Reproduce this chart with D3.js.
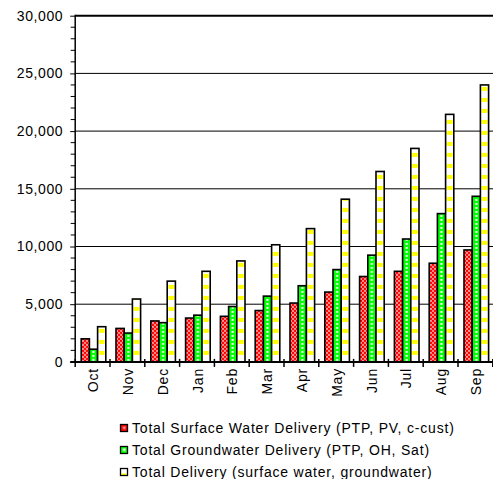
<!DOCTYPE html>
<html><head><meta charset="utf-8">
<script src="https://cdn.jsdelivr.net/npm/d3@7"></script>
<style>
html,body{margin:0;padding:0;background:#fff;}
svg{display:block;font-family:"Liberation Sans",Arial,sans-serif;}
</style></head>
<body>
<svg id="c" width="493" height="479"></svg>
<script>
const months = ["Oct","Nov","Dec","Jan","Feb","Mar","Apr","May","Jun","Jul","Aug","Sep"];
const surfaceWater = [2000,2900,3550,3800,3950,4450,5100,6050,7400,7850,8550,9700];
const groundwater = [1100,2500,3400,4050,4800,5700,6600,8000,9250,10650,12850,14350];
const totalDelivery = [3050,5450,7000,7850,8750,10150,11550,14100,16500,18500,21450,24000];
const seriesNames = ["Total Surface Water Delivery (PTP, PV, c-cust)","Total Groundwater Delivery (PTP, OH, Sat)","Total Delivery (surface water, groundwater)"];
const yTicks = [0,5000,10000,15000,20000,25000,30000];

(function(){
const svg = d3.select("#c");
const pLeft = 75.2, pRight = 492.8, pTop = 15.7, pBottom = 361.9;
const x = d3.scaleBand().domain(months).range([pLeft, pRight]).paddingInner(0).paddingOuter(0);
const y = d3.scaleLinear().domain([0,30000]).range([pBottom, pTop]);
const bw = 8.2, off = 6;
const defs = svg.append("defs");

const pr = defs.append("pattern").attr("id","pred").attr("patternUnits","userSpaceOnUse")
  .attr("width",4).attr("height",4).attr("y", pBottom);
pr.append("rect").attr("width",4).attr("height",4).attr("fill","#ff0000");
pr.append("rect").attr("width",2).attr("height",2).attr("fill","#ff8c8c");
pr.append("rect").attr("x",2).attr("y",2).attr("width",2).attr("height",2).attr("fill","#ff8c8c");

svg.append("g").selectAll("line").data(yTicks.filter(d=>d>0)).join("line")
  .attr("x1",pLeft).attr("x2",pRight+1).attr("y1",d=>y(d)).attr("y2",d=>y(d))
  .attr("stroke","#000").attr("stroke-width",d=>d===30000?2:1);

const series = [surfaceWater, groundwater, totalDelivery];
series.forEach((vals, si) => {
  vals.forEach((v, i) => {
    const bx = x(months[i]) + off + si*bw;
    let fill;
    if (si === 0) fill = "url(#pred)";
    else if (si === 1) {
      const id = "pg"+i;
      const p = defs.append("pattern").attr("id",id).attr("patternUnits","userSpaceOnUse")
        .attr("x",bx).attr("y",pBottom).attr("width",bw).attr("height",4);
      p.append("rect").attr("width",bw).attr("height",4).attr("fill","#00ff00");
      p.append("rect").attr("x",bw/2-1).attr("y",1).attr("width",2).attr("height",2).attr("fill","#fff");
      fill = `url(#${id})`;
    } else {
      const id = "py"+i;
      const p = defs.append("pattern").attr("id",id).attr("patternUnits","userSpaceOnUse")
        .attr("x",bx).attr("y",pBottom).attr("width",bw).attr("height",11);
      p.append("rect").attr("width",bw).attr("height",11).attr("fill","#fff");
      p.append("rect").attr("x",1.2).attr("y",0).attr("width",bw-2.4).attr("height",4).attr("fill","#ffff00");
      fill = `url(#${id})`;
    }
    svg.append("rect").attr("x",bx).attr("y",y(v)).attr("width",bw).attr("height",y(0)-y(v))
      .attr("fill",fill).attr("stroke","#000").attr("stroke-width",1.6);
  });
});

const yAxis = d3.axisLeft(y).tickValues(yTicks).tickSize(5).tickPadding(7).tickFormat(d3.format(","));
const gy = svg.append("g").attr("transform",`translate(${pLeft},0)`).call(yAxis);
gy.select(".domain").remove();
gy.selectAll("line").attr("stroke","#000");
gy.selectAll("text").attr("font-size","14px").attr("letter-spacing","0.6px").attr("fill","#000")
  .attr("font-family","'Liberation Sans',Arial,sans-serif");
const minor = d3.range(0,30001,1000).filter(d=>d%5000!==0);
svg.append("g").selectAll("line").data(minor).join("line")
  .attr("x1",pLeft-4.5).attr("x2",pLeft).attr("y1",d=>y(d)).attr("y2",d=>y(d)).attr("stroke","#000");
svg.append("line").attr("x1",pLeft).attr("x2",pLeft).attr("y1",pTop-1).attr("y2",pBottom)
  .attr("stroke","#000").attr("stroke-width",1.5);

svg.append("line").attr("x1",pLeft-5).attr("x2",pRight+1).attr("y1",pBottom).attr("y2",pBottom)
  .attr("stroke","#000").attr("stroke-width",2);
const bounds = months.map(m=>x(m)).concat([pRight]);
svg.append("g").selectAll("line").data(bounds).join("line")
  .attr("x1",d=>d).attr("x2",d=>d).attr("y1",pBottom-3).attr("y2",pBottom+5)
  .attr("stroke","#000").attr("stroke-width",1.5);
svg.append("g").selectAll("text").data(months).join("text")
  .attr("transform",d=>`translate(${x(d)+x.bandwidth()/2},368) rotate(-90)`)
  .attr("text-anchor","end").attr("dy","0.4em").attr("font-size","14px").attr("letter-spacing","0.8px")
  .text(d=>d);

const legFills = ["url(#lr)","url(#lg)","url(#ly)"];
const lr = defs.append("pattern").attr("id","lr").attr("patternUnits","objectBoundingBox").attr("width",1).attr("height",1);
lr.append("rect").attr("width",7).attr("height",7).attr("fill","#ff0000");
lr.append("rect").attr("x",2.5).attr("y",2).attr("width",2.5).attr("height",2.5).attr("fill","#ff9c9c");
const lg = defs.append("pattern").attr("id","lg").attr("patternUnits","objectBoundingBox").attr("width",1).attr("height",1);
lg.append("rect").attr("width",7).attr("height",7).attr("fill","#00ff00");
lg.append("rect").attr("x",2.5).attr("y",2).attr("width",2.5).attr("height",2.5).attr("fill","#fff");
const ly = defs.append("pattern").attr("id","ly").attr("patternUnits","objectBoundingBox").attr("width",1).attr("height",1);
ly.append("rect").attr("width",7).attr("height",7).attr("fill","#fff");
ly.append("rect").attr("x",1).attr("y",5).attr("width",5).attr("height",2).attr("fill","#ffff00");

const leg = svg.append("g").selectAll("g").data(seriesNames).join("g")
  .attr("transform",(d,i)=>`translate(120,${432.5 + i*22})`);
leg.append("rect").attr("x",0.5).attr("y",-8).attr("width",7).attr("height",7)
  .attr("fill",(d,i)=>legFills[i]).attr("stroke","#000").attr("stroke-width",1.3);
leg.append("text").attr("x",12).attr("y",0).attr("font-size","14px").attr("letter-spacing","0.8px")
  .attr("fill","#000").text(d=>d);
})();
</script>
</body></html>
